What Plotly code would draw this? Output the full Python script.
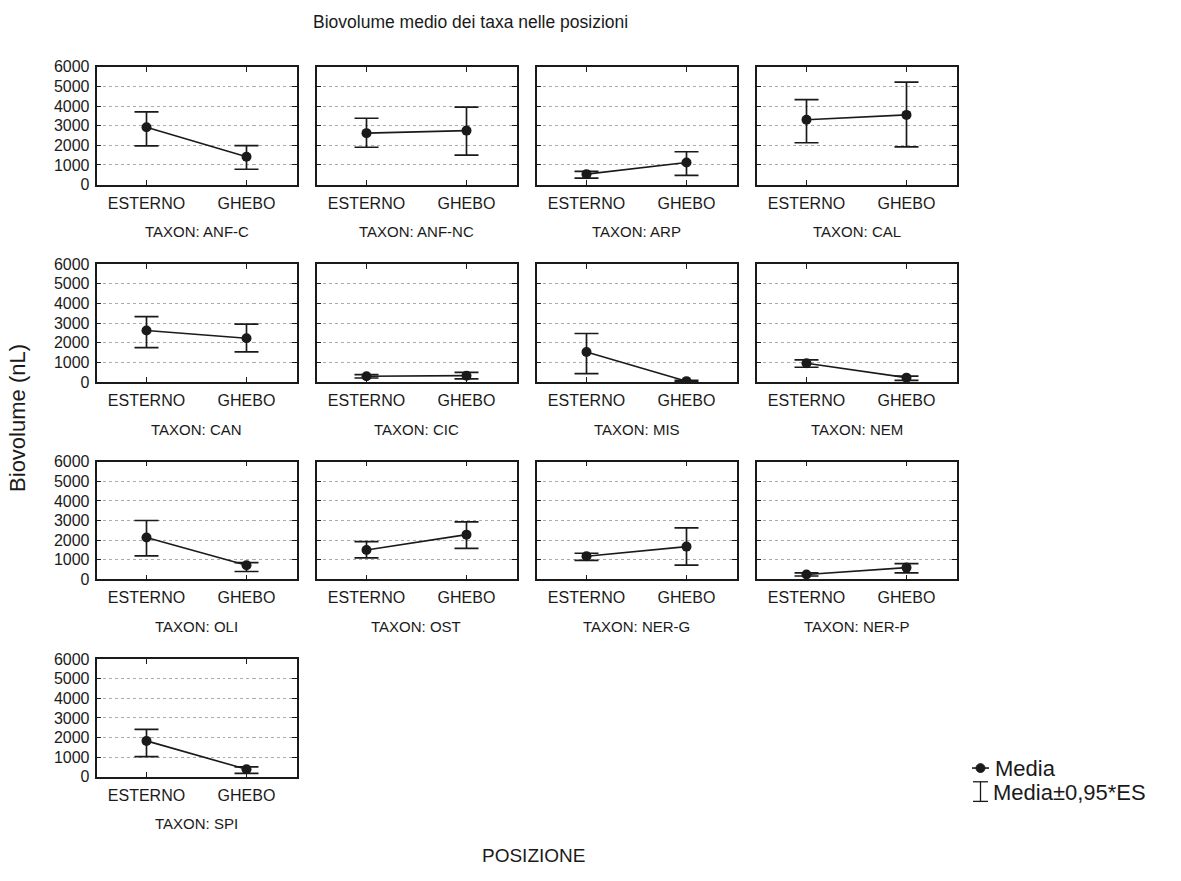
import plotly.graph_objects as go

# Biovolume medio (nL) per taxon e posizione, con limiti Media ± 0,95*ES
taxa = ["ANF-C", "ANF-NC", "ARP", "CAL",
        "CAN", "CIC", "MIS", "NEM",
        "OLI", "OST", "NER-G", "NER-P",
        "SPI"]
posizioni = ["ESTERNO", "GHEBO"]

media_esterno = [2920, 2620, 530, 3300, 2620, 290, 1530, 950, 2130, 1500, 1180, 250, 1830]
media_ghebo   = [1420, 2750, 1120, 3550, 2230, 320, 40, 220, 720, 2280, 1670, 600, 380]
sup_esterno   = [3700, 3380, 670, 4330, 3330, 370, 2470, 1130, 3000, 1920, 1330, 330, 2420]
sup_ghebo     = [1980, 3950, 1670, 5220, 2950, 490, 80, 300, 850, 2930, 2620, 800, 500]
inf_esterno   = [1970, 1900, 330, 2130, 1750, 200, 420, 750, 1200, 1100, 970, 170, 1030]
inf_ghebo     = [780, 1500, 470, 1920, 1530, 160, 0, 80, 400, 1580, 730, 330, 170]

y_ticks = [0, 1000, 2000, 3000, 4000, 5000, 6000]

W, H = 1181, 881
FONT = "Liberation Sans, Arial, sans-serif"
INK = "#1a1a1a"

def px(x):
    return x / W

def py(y):
    return 1 - y / H

n_cols = 4
panel_w, panel_h = 200, 120
col_left = [96.5 + 220 * c for c in range(n_cols)]
row_top = [60 + 201.3 * r for r in range(4)]

fig = go.Figure()
annotations = []

for i, taxon in enumerate(taxa):
    r, c = divmod(i, n_cols)
    k = i + 1
    xa = "x" if k == 1 else f"x{k}"
    ya = "y" if k == 1 else f"y{k}"
    means = [media_esterno[i], media_ghebo[i]]
    ups = [sup_esterno[i] - media_esterno[i], sup_ghebo[i] - media_ghebo[i]]
    downs = [media_esterno[i] - inf_esterno[i], media_ghebo[i] - inf_ghebo[i]]
    fig.add_trace(go.Scatter(
        x=posizioni, y=means, xaxis=xa, yaxis=ya,
        mode="lines+markers",
        line=dict(color=INK, width=1.6),
        marker=dict(color=INK, size=10),
        error_y=dict(type="data", symmetric=False, array=ups, arrayminus=downs,
                     color=INK, thickness=1.7, width=12),
        showlegend=False, hoverinfo="skip",
    ))

    x0 = col_left[c]
    top = row_top[r]
    xdom = [px(x0), px(x0 + panel_w)]
    ydom = [py(top + panel_h), py(top)]
    axis_common = dict(showline=True, linecolor=INK, linewidth=1.6, mirror="ticks",
                       ticks="inside", ticklen=5, tickcolor=INK, tickwidth=1,
                       zeroline=False,
                       tickfont=dict(family=FONT, size=16, color=INK))
    fig.layout[f"xaxis{'' if k == 1 else k}"] = dict(
        domain=xdom, anchor=ya, type="category",
        categoryorder="array", categoryarray=posizioni,
        range=[-0.5, 1.5], showgrid=False, ticklabelstandoff=3,
        **axis_common)
    fig.layout[f"yaxis{'' if k == 1 else k}"] = dict(
        domain=ydom, anchor=xa, range=[0, 6000],
        tickvals=y_ticks, showticklabels=(c == 0),
        showgrid=True, gridcolor="#ababab", griddash="dot", gridwidth=1,
        ticklabelstandoff=2,
        **axis_common)

    annotations.append(dict(
        text=f"TAXON: {taxon}", xref="paper", yref="paper",
        x=px(x0 + panel_w / 2), y=py(top + 168), xanchor="center", yanchor="middle",
        showarrow=False, font=dict(family=FONT, size=15, color=INK)))

# Titoli
annotations.append(dict(text="Biovolume medio dei taxa nelle posizioni",
                        xref="paper", yref="paper", x=px(470), y=py(14),
                        xanchor="center", yanchor="middle", showarrow=False,
                        font=dict(family=FONT, size=17.5, color=INK)))
annotations.append(dict(text="Biovolume (nL)", xref="paper", yref="paper",
                        x=px(18), y=py(418), textangle=-90,
                        xanchor="center", yanchor="middle", showarrow=False,
                        font=dict(family=FONT, size=22, color=INK)))
annotations.append(dict(text="POSIZIONE", xref="paper", yref="paper",
                        x=px(533), y=py(864), xanchor="center", yanchor="middle",
                        showarrow=False, font=dict(family=FONT, size=19, color=INK)))

# Legenda
annotations.append(dict(text="Media", xref="paper", yref="paper",
                        x=px(993), y=py(775), xanchor="left", yanchor="middle",
                        showarrow=False, font=dict(family=FONT, size=22, color=INK)))
annotations.append(dict(text="Media±0,95*ES", xref="paper", yref="paper",
                        x=px(991), y=py(800), xanchor="left", yanchor="middle",
                        showarrow=False, font=dict(family=FONT, size=22, color=INK)))

shapes = [
    # simbolo della media
    dict(type="line", xref="paper", yref="paper", x0=px(972), x1=px(989),
         y0=py(775), y1=py(775), line=dict(color=INK, width=1.6)),
    dict(type="circle", xref="paper", yref="paper", x0=px(976), x1=px(985),
         y0=py(779.5), y1=py(770.5), fillcolor=INK, line=dict(color=INK, width=1)),
    # simbolo della barra d'errore
    dict(type="line", xref="paper", yref="paper", x0=px(980.5), x1=px(980.5),
         y0=py(789), y1=py(809), line=dict(color=INK, width=1.3)),
    dict(type="line", xref="paper", yref="paper", x0=px(973), x1=px(988),
         y0=py(789), y1=py(789), line=dict(color=INK, width=1.3)),
    dict(type="line", xref="paper", yref="paper", x0=px(973), x1=px(988),
         y0=py(809), y1=py(809), line=dict(color=INK, width=1.3)),
]

fig.update_layout(
    width=W, height=H,
    margin=dict(l=0, r=0, t=0, b=0),
    paper_bgcolor="white", plot_bgcolor="white",
    annotations=annotations, shapes=shapes,
    showlegend=False,
    font=dict(family=FONT, color=INK),
)

fig.write_html("out.html")
